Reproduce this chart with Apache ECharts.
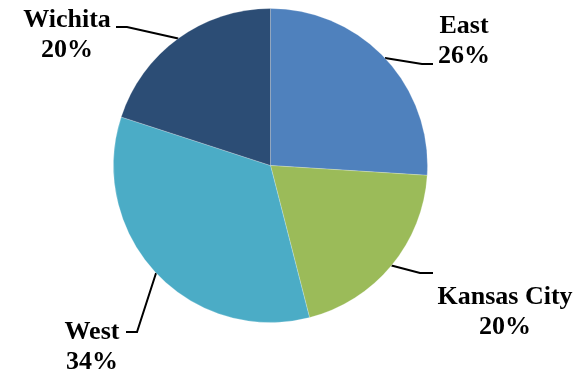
<!DOCTYPE html>
<html>
<head>
<meta charset="utf-8">
<script src="https://cdn.jsdelivr.net/npm/echarts@6/dist/echarts.min.js"></script>
<style>
  html, body { margin: 0; padding: 0; background: #ffffff; }
  #chart { width: 588px; height: 374px; }
</style>
</head>
<body>
<div id="chart"></div>
<script>
// Share of total by region
const regions = ['East', 'Kansas City', 'West', 'Wichita'];
const shares = [26, 20, 34, 20];

const sliceColors = ['#4F81BD', '#9BBB59', '#4BACC6', '#2C4D75'];

// Where each label block sits, and the elbow / end of its leader line
const labelPlacement = {
  'East':        { x: 464, y: 41,  elbow: [422, 64],  end: [433, 64] },
  'Kansas City': { x: 505, y: 312, elbow: [420, 273], end: [433, 273] },
  'West':        { x: 92,  y: 347, elbow: [137, 332], end: [126, 332] },
  'Wichita':     { x: 67,  y: 35,  elbow: [127, 27],  end: [116, 27] }
};

const chart = echarts.init(document.getElementById('chart'), null, { renderer: 'canvas' });

chart.setOption({
  animation: false,
  backgroundColor: '#ffffff',
  series: [{
    type: 'pie',
    center: [270.5, 165.5],
    radius: 157,
    startAngle: 90,
    clockwise: true,
    avoidLabelOverlap: false,
    data: regions.map((name, i) => ({
      name: name,
      value: shares[i],
      itemStyle: { color: sliceColors[i] }
    })),
    itemStyle: {
      borderColor: 'rgba(255,255,255,0.45)',
      borderWidth: 0.5
    },
    label: {
      show: true,
      position: 'outside',
      formatter: '{b}\n{d}%',
      fontFamily: '"Liberation Serif", "Times New Roman", serif',
      fontWeight: 'bold',
      fontSize: 26,
      lineHeight: 30,
      color: '#000000',
      align: 'center'
    },
    labelLine: {
      show: true,
      length: 20,
      length2: 10,
      lineStyle: { color: '#000000', width: 2 }
    },
    labelLayout: function (params) {
      const p = labelPlacement[regions[params.dataIndex]];
      const start = params.labelLinePoints ? params.labelLinePoints[0] : p.elbow;
      return {
        x: p.x,
        y: p.y,
        align: 'center',
        verticalAlign: 'middle',
        labelLinePoints: [start, p.elbow, p.end]
      };
    }
  }]
});
</script>
</body>
</html>
